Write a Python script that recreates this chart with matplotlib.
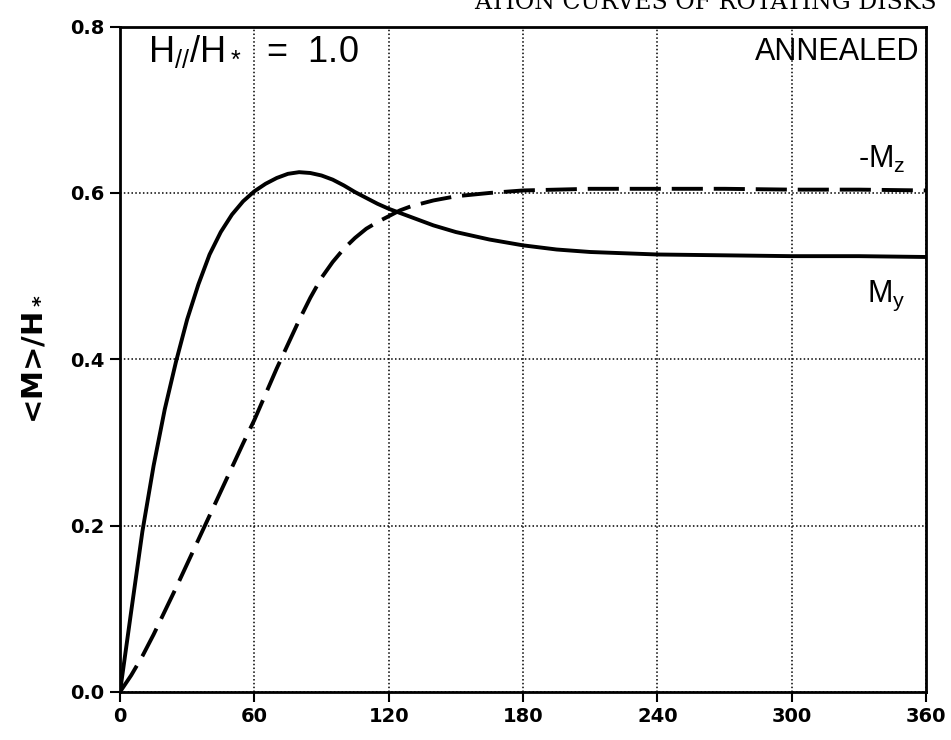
import numpy as np
import matplotlib
matplotlib.use("Agg")
import matplotlib.pyplot as plt

# angle (deg) vs normalised magnetisation
angle = [0, 5, 10, 15, 20, 25, 30, 35, 40, 45, 50, 55, 60, 65, 70, 75, 80, 85, 90,
         95, 100, 105, 110, 115, 120, 125, 130, 140, 150, 165, 180, 195, 210, 240,
         270, 300, 330, 360]
m_y = [0.0, 0.097, 0.193, 0.272, 0.340, 0.397, 0.448, 0.490, 0.526, 0.553, 0.574,
       0.590, 0.602, 0.611, 0.618, 0.623, 0.625, 0.624, 0.621, 0.616, 0.609, 0.601,
       0.594, 0.587, 0.581, 0.576, 0.571, 0.561, 0.553, 0.544, 0.537, 0.532, 0.529,
       0.526, 0.525, 0.524, 0.524, 0.523]
m_z = [0.0, 0.020, 0.043, 0.069, 0.097, 0.125, 0.154, 0.183, 0.212, 0.241, 0.270,
       0.299, 0.327, 0.358, 0.389, 0.418, 0.447, 0.474, 0.498, 0.517, 0.533, 0.546,
       0.557, 0.565, 0.572, 0.579, 0.584, 0.591, 0.596, 0.600, 0.603, 0.604, 0.605,
       0.605, 0.605, 0.604, 0.604, 0.603]

xticks = [0, 60, 120, 180, 240, 300, 360]
yticks = [0.0, 0.2, 0.4, 0.6, 0.8]

plt.rcParams['mathtext.default'] = 'regular'

fig = plt.figure(figsize=(9.51, 7.40), dpi=100)
ax = fig.add_axes([0.1262, 0.065, 0.8475, 0.899])

ax.plot(angle, m_y, color='black', lw=2.8, solid_capstyle='round')
ax.plot(angle, m_z, color='black', lw=2.8, dashes=(8, 2.8))

ax.set_xlim(0, 360)
ax.set_ylim(0, 0.8)
ax.set_xticks(xticks)
ax.set_yticks(yticks)
ax.set_yticklabels(['%.1f' % v for v in yticks])
ax.grid(True, color='black', linestyle=(0, (1, 1.5)), linewidth=1.1)
ax.tick_params(direction='out', length=7, width=1.5, labelsize=14, pad=4)
for lab in ax.get_xticklabels() + ax.get_yticklabels():
    lab.set_fontweight('bold')
for sp in ax.spines.values():
    sp.set_linewidth(2)

ax.set_ylabel('<M>/H$_*$', fontsize=21, fontweight='bold')
ax.yaxis.set_label_coords(-0.09, 0.5)

ax.text(0.035, 0.962, 'H$_{//}$/H$_*$  =  1.0', transform=ax.transAxes,
        fontsize=26, family='Liberation Sans', va='center', ha='left')
ax.text(0.992, 0.962, 'ANNEALED', transform=ax.transAxes,
        fontsize=22, family='Liberation Sans', va='center', ha='right')
ax.text(0.975, 0.800, '-M$_z$', transform=ax.transAxes,
        fontsize=22, family='Liberation Sans', va='center', ha='right')
ax.text(0.975, 0.595, 'M$_y$', transform=ax.transAxes,
        fontsize=22, family='Liberation Sans', va='center', ha='right')

# cut-off running header of the scanned page
fig.text(0.985, 0.988, 'ATION CURVES OF ROTATING DISKS', ha='right', va='baseline',
         family='DejaVu Serif', fontsize=17)

fig.savefig('out.png', dpi=100)
